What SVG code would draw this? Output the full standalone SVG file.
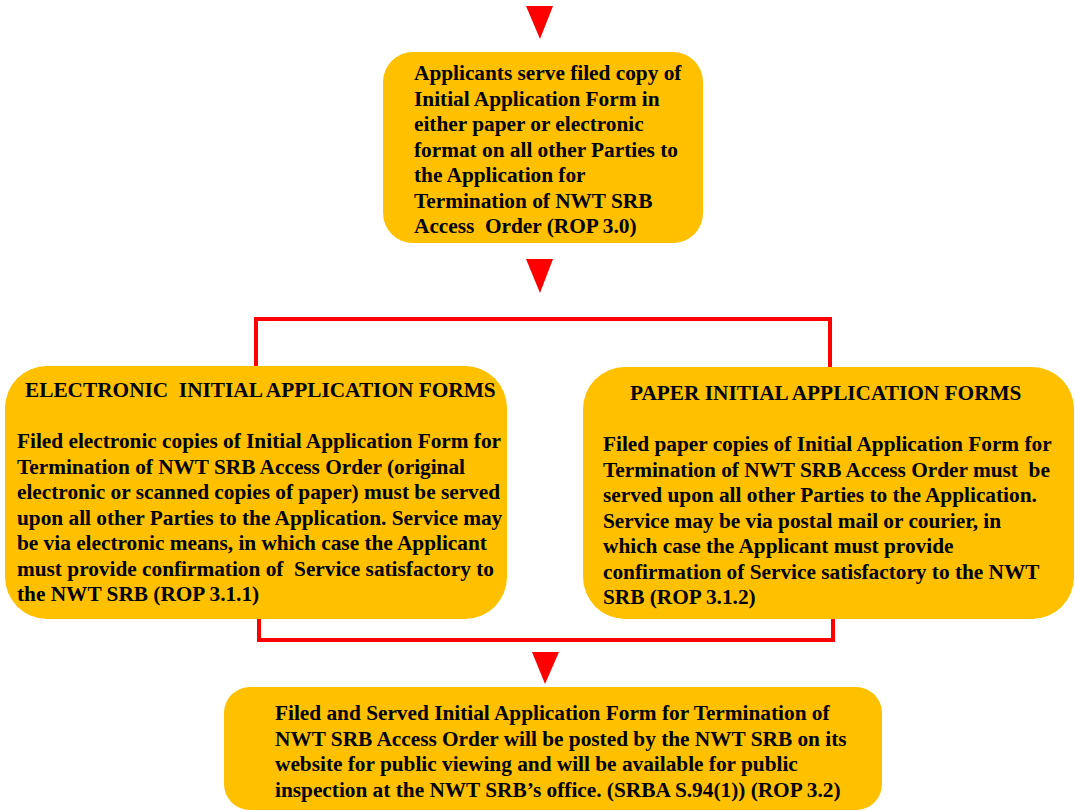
<svg xmlns="http://www.w3.org/2000/svg" width="1075" height="811" viewBox="0 0 1075 811">
<style>
.box{fill:#FFC000;}
.t{font-family:"Liberation Serif","Times New Roman",serif;font-weight:bold;font-size:21.3px;fill:#000;}
.c{stroke:#FF0000;stroke-width:4;fill:none;}
.arr{fill:#FF0000;}
</style>
<rect width="1075" height="811" fill="#fff"/>
<g id="connectors">
<polygon class="arr" points="526,6 553,6 540,39"/>
<polygon class="arr" points="526,259 553,259 540,293"/>
<polyline class="c" points="256,367 256,319 830,319 830,368"/>
<polyline class="c" points="259,619 259,640 833,640 833,619"/>
<polygon class="arr" points="532,652 559,652 545,684"/>
</g>
<g id="node-top">
<rect class="box" x="383" y="52" width="320" height="191" rx="30"/>
<text class="t" x="414" y="80">Applicants serve filed copy of</text>
<text class="t" x="414" y="105.5">Initial Application Form in</text>
<text class="t" x="414" y="131">either paper or electronic</text>
<text class="t" x="414" y="156.5">format on all other Parties to</text>
<text class="t" x="414" y="182">the Application for</text>
<text class="t" x="414" y="207.5">Termination of NWT SRB</text>
<text class="t" x="414" y="233" xml:space="preserve">Access  Order (ROP 3.0)</text>
</g>
<g id="node-electronic">
<rect class="box" x="5" y="366" width="502" height="253" rx="42"/>
<text class="t" x="25" y="397" xml:space="preserve">ELECTRONIC  INITIAL APPLICATION FORMS</text>
<text class="t" x="17" y="448">Filed electronic copies of Initial Application Form for</text>
<text class="t" x="17" y="473.5">Termination of NWT SRB Access Order (original</text>
<text class="t" x="17" y="499">electronic or scanned copies of paper) must be served</text>
<text class="t" x="17" y="524.5">upon all other Parties to the Application. Service may</text>
<text class="t" x="17" y="550">be via electronic means, in which case the Applicant</text>
<text class="t" x="17" y="575.5" xml:space="preserve">must provide confirmation of  Service satisfactory to</text>
<text class="t" x="17" y="601">the NWT SRB (ROP 3.1.1)</text>
</g>
<g id="node-paper">
<rect class="box" x="583" y="367" width="491" height="252" rx="42"/>
<text class="t" x="630" y="400">PAPER INITIAL APPLICATION FORMS</text>
<text class="t" x="603" y="451">Filed paper copies of Initial Application Form for</text>
<text class="t" x="603" y="476.5" xml:space="preserve">Termination of NWT SRB Access Order must  be</text>
<text class="t" x="603" y="502">served upon all other Parties to the Application.</text>
<text class="t" x="603" y="527.5">Service may be via postal mail or courier, in</text>
<text class="t" x="603" y="553">which case the Applicant must provide</text>
<text class="t" x="603" y="578.5">confirmation of Service satisfactory to the NWT</text>
<text class="t" x="603" y="604">SRB (ROP 3.1.2)</text>
</g>
<g id="node-bottom">
<rect class="box" x="224" y="687" width="658" height="123" rx="26"/>
<text class="t" x="275" y="720">Filed and Served Initial Application Form for Termination of</text>
<text class="t" x="275" y="745.5">NWT SRB Access Order will be posted by the NWT SRB on its</text>
<text class="t" x="275" y="771">website for public viewing and will be available for public</text>
<text class="t" x="275" y="796.5">inspection at the NWT SRB’s office. (SRBA S.94(1)) (ROP 3.2)</text>
</g>
</svg>
